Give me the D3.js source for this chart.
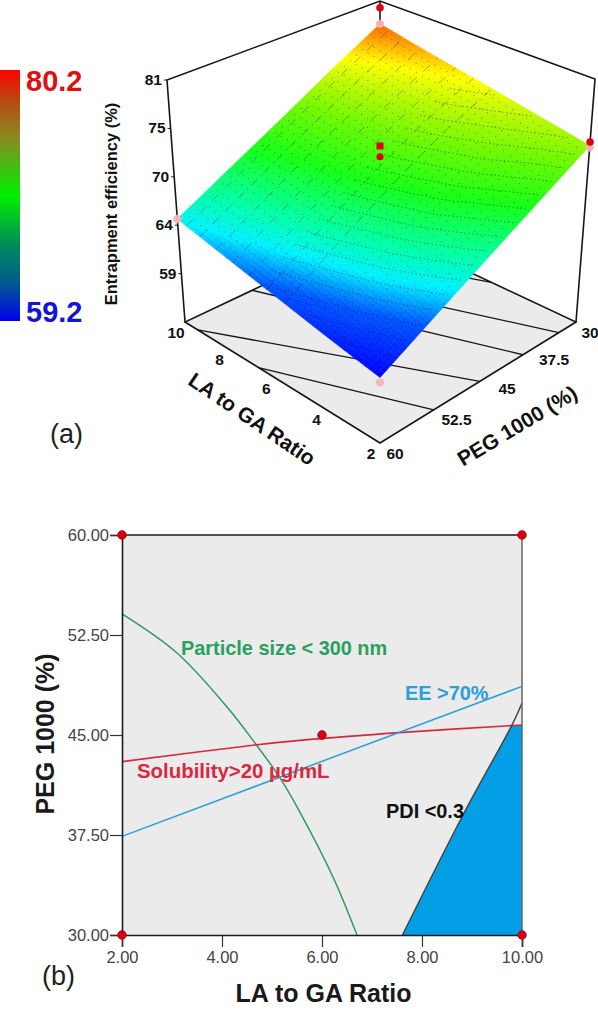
<!DOCTYPE html>
<html><head><meta charset="utf-8">
<script src="https://cdn.jsdelivr.net/npm/d3@7/dist/d3.min.js"></script>
<style>html,body{margin:0;padding:0;background:#fff}svg{display:block}text{font-family:"Liberation Sans",Arial,sans-serif}</style>
</head><body><svg id="c" width="598" height="1020"></svg>
<script>
// ---------- data: panel (a) ----------
const laGrid = [2, 4, 6, 8, 10];
const pegGrid = [30, 37.5, 45, 52.5, 60];
const eePeg30 = [73.6, 74.8, 76.0, 77.1, 78.3];
const eePeg375 = [70.4, 72.3, 73.5, 74.2, 75.2];
const eePeg45 = [67.2, 69.2, 70.4, 71.2, 71.9];
const eePeg525 = [64.0, 65.7, 66.9, 67.8, 68.7];
const eePeg60 = [60.8, 61.9, 63.1, 64.3, 65.5];
const laTicks = [2, 4, 6, 8, 10];
const pegTicks = [30, 37.5, 45, 52.5, 60];
const zTicks = [59.4, 64.8, 70.2, 75.6, 81];
const zTickLabels = ["59", "64", "70", "75", "81"];
const floorContours = [
  [[2, 52.6], [6.7, 60]],
  [[2, 45.8], [9.4, 60]],
  [[2, 39], [10, 50.5]],
  [[2, 33], [10, 45]],
  [[5.2, 30], [10, 38]]
];
const meshDashLa = [5.5, 6.2, 6.9, 7.6, 8.3, 9, 9.6];
const designAbove = [[10, 30, 80.2], [2, 30, 74.0]];
const designCentreSquare = [[6, 45, 73.6]];
const designCentreRound = [[6, 45, 72.4]];
const designBelow = [[10, 30, 78.3], [2, 30, 73.4], [10, 60, 65.5], [2, 60, 60.3]];
const legendValues = ["80.2", "59.2"];
// ---------- data: panel (b) ----------
const xTicks = [2, 4, 6, 8, 10];
const yTicks = [30, 37.5, 45, 52.5, 60];
const sizeLine = [[2,54.08],[3.1,51.15],[4.1,47.1],[4.66,44.4],[5.16,41.78],[5.56,39.2],[6.22,34.35],[6.7,30]];
const solLine = [[2,43.0],[4.66,44.25],[5.56,44.6],[7.62,45.2],[10,45.75]];
const eeLine = [[2,37.4],[10,48.65]];
const pdiLine = [[7.61,30],[8.82,39],[9.82,45.9],[10,47.4]];
const region = [[7.61,30],[8.82,39],[9.8,45.75],[10,45.75],[10,30]];
const cornerPts = [[2,60],[10,60],[2,30],[10,30],[6,45]];

const svg = d3.select("#c");
const eeRows = [eePeg30, eePeg375, eePeg45, eePeg525, eePeg60];

// ---------- projection ----------
function quad(p00, p10, p11, p01) {
  const dx1 = p10[0]-p11[0], dx2 = p01[0]-p11[0], sx = p00[0]-p10[0]+p11[0]-p01[0];
  const dy1 = p10[1]-p11[1], dy2 = p01[1]-p11[1], sy = p00[1]-p10[1]+p11[1]-p01[1];
  const den = dx1*dy2-dx2*dy1;
  const g = (sx*dy2-dx2*sy)/den, h = (dx1*sy-sx*dy1)/den;
  const a = p10[0]-p00[0]+g*p10[0], b = p01[0]-p00[0]+h*p01[0], c = p00[0];
  const d = p10[1]-p00[1]+g*p10[1], e = p01[1]-p00[1]+h*p01[1], f = p00[1];
  return (u, v) => { const w = g*u+h*v+1; return [(a*u+b*v+c)/w, (d*u+e*v+f)/w]; };
}
const floorQ = quad([380,443],[185,322],[380,230],[576,322]);
const topQ = quad([380,183],[167,80],[380,1],[595,79]);
const uS = d3.scaleLinear().domain([2,10]).range([0,1]);
const vS = d3.scaleLinear().domain([60,30]).range([0,1]);
const wS = d3.scaleLinear().domain([54,81]).range([0,1]);
function proj(la, peg, ee) {
  const a = floorQ(uS(la), vS(peg)), b = topQ(uS(la), vS(peg)), w = wS(ee);
  return [a[0]+(b[0]-a[0])*w, a[1]+(b[1]-a[1])*w];
}
const line3 = d3.line();
const black = "#161616";

// colour bar
const barStops = [[0,"#ff0000"],[0.12,"#b84a10"],[0.27,"#8a8a20"],[0.5,"#00f000"],[0.7,"#008a5a"],[0.85,"#005a90"],[1,"#0000ee"]];
const defs = svg.append("defs");
const lg = defs.append("linearGradient").attr("id","bar").attr("x1",0).attr("x2",0).attr("y1",0).attr("y2",1);
lg.selectAll("stop").data(barStops).join("stop").attr("offset",d=>d[0]).attr("stop-color",d=>d[1]);
svg.append("rect").attr("x",0).attr("y",70).attr("width",20).attr("height",251).attr("fill","url(#bar)");
svg.append("text").attr("x",26).attr("y",91).attr("font-size",29).attr("font-weight","bold").attr("fill","#e01010").text(legendValues[0]);
svg.append("text").attr("x",26).attr("y",322).attr("font-size",29).attr("font-weight","bold").attr("fill","#1414d8").text(legendValues[1]);
svg.append("text").attr("x",50).attr("y",443).attr("font-size",27).attr("fill","#222").text("(a)");
svg.append("text").attr("x",42).attr("y",985).attr("font-size",27).attr("fill","#222").text("(b)");

// floor
const fl = svg.append("g");
const corner = [[2,60],[10,60],[10,30],[2,30]];
fl.append("path").attr("d", line3.curve(d3.curveLinearClosed)(corner.map(c=>proj(c[0],c[1],54)))).attr("fill","#ebebeb").attr("stroke",black).attr("stroke-width",1.6);
line3.curve(d3.curveLinear);
fl.selectAll(".fc").data(floorContours).join("path").attr("d",d=>line3(d.map(p=>proj(p[0],p[1],54)))).attr("fill","none").attr("stroke",black).attr("stroke-width",1.3);
// frame
const frame = [[[10,60,54],[10,60,81],[10,30,81],[2,30,81],[2,30,54]],[[10,30,81],[10,30,78]]];
fl.selectAll(".fr").data(frame).join("path").attr("d",d=>line3(d.map(p=>proj(p[0],p[1],p[2])))).attr("fill","none").attr("stroke",black).attr("stroke-width",1.6);
// z ticks
fl.selectAll(".zt").data(zTicks).join("line")
  .attr("x1",d=>proj(10,60,d)[0]-3).attr("x2",d=>proj(10,60,d)[0]).attr("y1",d=>proj(10,60,d)[1]).attr("y2",d=>proj(10,60,d)[1]).attr("stroke",black);
const tick3 = {"font-size":15.5,"font-weight":"bold","fill":"#111","text-anchor":"middle"};
function applyAttrs(s,o){Object.entries(o).forEach(([k,v])=>s.attr(k,v));return s;}
applyAttrs(fl.selectAll(".zl").data(zTicks).join("text"),tick3)
  .attr("text-anchor","end").attr("x",d=>proj(10,60,d)[0]-5).attr("y",d=>proj(10,60,d)[1]+5).text((d,i)=>zTickLabels[i]);
applyAttrs(fl.selectAll(".ll").data(laTicks).join("text"),tick3)
  .attr("x",d=>proj(d,60,54)[0]-9).attr("y",d=>proj(d,60,54)[1]+16).text(d=>d);
applyAttrs(fl.selectAll(".pl").data(pegTicks).join("text"),tick3)
  .attr("x",d=>proj(2,d,54)[0]+(d==60?15:d==30?14:22)).attr("y",d=>proj(2,d,54)[1]+16).text(d=>d);
svg.append("text").attr("transform","translate(248,425) rotate(34)").attr("text-anchor","middle").attr("font-size",21).attr("font-weight","bold").attr("fill","#111").text("LA to GA Ratio");
svg.append("text").attr("transform","translate(521,432) rotate(-31)").attr("text-anchor","middle").attr("font-size",21).attr("font-weight","bold").attr("fill","#111").text("PEG 1000 (%)");
svg.append("text").attr("transform","translate(117,204) rotate(-90)").attr("text-anchor","middle").attr("font-size",16.5).attr("font-weight","bold").attr("fill","#111").text("Entrapment efficiency (%)");

// surface
const N = 64;
const iLa = d3.scaleLinear().domain(laGrid).range(d3.range(laGrid.length));
const iPeg = d3.scaleLinear().domain(pegGrid).range(d3.range(pegGrid.length));
function ee(la, peg) {
  const a = iLa(la), b = iPeg(peg);
  const a0 = Math.min(Math.floor(a), 3), b0 = Math.min(Math.floor(b), 3), s = a-a0, t = b-b0;
  return (1-t)*((1-s)*eeRows[b0][a0]+s*eeRows[b0][a0+1]) + t*((1-s)*eeRows[b0+1][a0]+s*eeRows[b0+1][a0+1]);
}
const colorS = d3.scaleLinear()
  .domain([60.8, 63.5, 65.3, 67, 70, 72.7, 74.5, 76, 78.3])
  .range(["#0000ff","#0058ff","#00f0ff","#00ffa8","#14ff14","#70f800","#b8f800","#ffff00","#ff6000"]);
const la = d3.scaleLinear().domain([0,N]).range([2,10]);
const peg = d3.scaleLinear().domain([0,N]).range([60,30]);
const cells = [];
for (let i=0;i<N;i++) for (let j=0;j<N;j++) cells.push([i,j]);
const surf = svg.append("g");
surf.selectAll(".cell").data(cells).join("path")
  .attr("d",([i,j])=>{
    const pts=[[i,j],[i+1,j],[i+1,j+1],[i,j+1]].map(([a,b])=>proj(la(a),peg(b),ee(la(a),peg(b))));
    return "M"+pts.map(p=>p[0].toFixed(1)+","+p[1].toFixed(1)).join("L")+"Z";
  })
  .attr("fill",([i,j])=>colorS(ee(la(i+.5),peg(j+.5))))
  .attr("stroke",([i,j])=>colorS(ee(la(i+.5),peg(j+.5)))).attr("stroke-width",0.6);
// mesh dots
surf.selectAll(".dot").data(cells.filter(([i,j])=>i>0&&j>0&&i%2==0&&j%2==0))
  .join("circle").attr("r",0.5).attr("fill","#000").attr("opacity",0.55)
  .attr("cx",([i,j])=>proj(la(i),peg(j),ee(la(i),peg(j)))[0])
  .attr("cy",([i,j])=>proj(la(i),peg(j),ee(la(i),peg(j)))[1]);
// dashed mesh lines along PEG direction, upper-left part
const pegRun = d3.range(0,N+1).map(j=>peg(j));
surf.selectAll(".ml").data(meshDashLa).join("path")
  .attr("d",d=>line3(pegRun.map(p=>proj(d,p,ee(d,p))))).attr("fill","none")
  .attr("stroke","#000").attr("stroke-width",0.6).attr("stroke-opacity",0.5).attr("stroke-dasharray","9 9");
// contour texture
const M = N+1, flat = [];
for (let j=0;j<M;j++) for (let i=0;i<M;i++) flat.push(ee(la(i),peg(j)));
const levels = d3.range(61,76,0.8);
const conts = d3.contours().size([M,M]).thresholds(levels).smooth(true)(flat);
let dp = "";
conts.forEach(c=>c.coordinates.forEach(poly=>poly.forEach(ring=>{
  let pen=false;
  ring.forEach(([x,y])=>{
    const edge = x<1.2||y<1.2||x>M-1.2||y>M-1.2;
    const inLeft = la(x-.5)>6.5;
    if(edge||inLeft){pen=false;return;}
    const p=proj(la(x-.5),peg(y-.5),ee(la(x-.5),peg(y-.5)));
    dp+=(pen?"L":"M")+p[0].toFixed(1)+","+p[1].toFixed(1); pen=true;
  });
})));
surf.append("path").attr("d",dp).attr("fill","none").attr("stroke","#000").attr("stroke-width",0.7).attr("stroke-opacity",0.55).attr("stroke-dasharray","1.5 2.5");
// design points
const pg = svg.append("g");
pg.selectAll(".below").data(designBelow).join("circle")
  .attr("cx",d=>proj(...d)[0]).attr("cy",d=>proj(...d)[1]).attr("r",4.2).attr("fill","#f7b4b4").attr("opacity",0.95);
pg.selectAll(".above").data(designAbove).join("circle")
  .attr("cx",d=>proj(...d)[0]).attr("cy",d=>proj(...d)[1]).attr("r",3.8).attr("fill","#e00010");
pg.selectAll(".sq").data(designCentreSquare).join("rect")
  .attr("x",d=>proj(...d)[0]-3.5).attr("y",d=>proj(...d)[1]-3.5).attr("width",7).attr("height",7).attr("fill","#e00010");
pg.selectAll(".rd").data(designCentreRound).join("circle")
  .attr("cx",d=>proj(...d)[0]).attr("cy",d=>proj(...d)[1]).attr("r",3.6).attr("fill","#e00010");

// ---------- panel (b) ----------
const x = d3.scaleLinear().domain([2,10]).range([122,522]);
const y = d3.scaleLinear().domain([30,60]).range([935,535]);
const b = svg.append("g");
b.append("rect").attr("x",x(2)).attr("y",y(60)).attr("width",x(10)-x(2)).attr("height",y(30)-y(60)).attr("fill","#ebebeb");
const ln = d3.line().x(d=>x(d[0])).y(d=>y(d[1]));
b.append("path").attr("d",ln(region)+"Z").attr("fill","#039fe6");
const lnC = d3.line().x(d=>x(d[0])).y(d=>y(d[1])).curve(d3.curveCatmullRom.alpha(0.5));
b.append("path").attr("d",lnC(sizeLine)).attr("fill","none").attr("stroke","#2f9a62").attr("stroke-width",1.5);
b.append("path").attr("d",lnC(solLine)).attr("fill","none").attr("stroke","#d8283e").attr("stroke-width",1.6);
b.append("path").attr("d",ln(eeLine)).attr("fill","none").attr("stroke","#2a9fd8").attr("stroke-width",1.5);
b.append("path").attr("d",lnC(pdiLine)).attr("fill","none").attr("stroke","#444").attr("stroke-width",1.5);
b.append("line").attr("x1",x(10)).attr("x2",x(10)).attr("y1",y(60)).attr("y2",y(30)).attr("stroke","#666").attr("stroke-width",1.5);
b.append("line").attr("x1",x(2)).attr("x2",x(10)).attr("y1",y(60)).attr("y2",y(60)).attr("stroke","#1c1c1c").attr("stroke-width",1.6);
const ax = b.append("g").attr("transform",`translate(0,${y(30)})`).call(d3.axisBottom(x).tickValues(xTicks).tickFormat(d3.format(".2f")).tickSize(12).tickPadding(4));
const ay = b.append("g").attr("transform",`translate(${x(2)},0)`).call(d3.axisLeft(y).tickValues(yTicks).tickFormat(d3.format(".2f")).tickSize(12).tickPadding(1));
[ax,ay].forEach(g=>{
  g.selectAll("text").attr("font-size",16.5).attr("font-family","Liberation Sans").attr("fill","#444");
  g.selectAll("line").attr("stroke","#333").attr("stroke-width",1.2);
  g.select(".domain").attr("stroke","#1c1c1c").attr("stroke-width",1.6);
});
b.selectAll(".cp").data(cornerPts).join("circle").attr("cx",d=>x(d[0])).attr("cy",d=>y(d[1])).attr("r",4.4).attr("fill","#d80010").attr("stroke","#7a1010").attr("stroke-width",0.6);
const lab = (t,xx,yy,c,fs)=>b.append("text").attr("x",xx).attr("y",yy).attr("font-size",fs).attr("font-weight","bold").attr("fill",c).text(t);
lab("Particle size < 300 nm",181,655,"#2aa060",19.9);
lab("Solubility>20 µg/mL",137,778,"#d8283e",20.4);
lab("EE >70%",405,700,"#2a9fd8",19.9);
lab("PDI <0.3",386,818,"#111",19.9);
b.append("text").attr("x",323.5).attr("y",1002).attr("text-anchor","middle").attr("font-size",25).attr("font-weight","bold").attr("fill","#1a1a1a").text("LA to GA Ratio");
b.append("text").attr("transform","translate(54,734) rotate(-90)").attr("text-anchor","middle").attr("font-size",25).attr("font-weight","bold").attr("fill","#1a1a1a").text("PEG 1000 (%)");
</script></body></html>
